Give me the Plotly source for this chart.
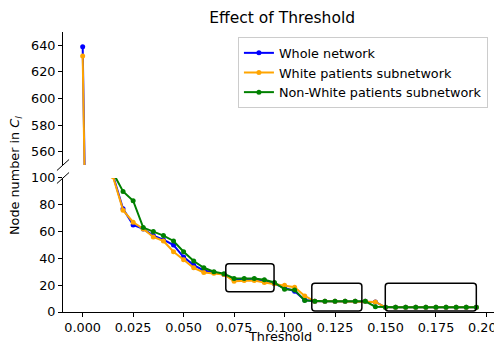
import plotly.graph_objects as go

# ---- data ----
thresholds = [round(i * 0.005, 3) for i in range(40)]
whole = [639, 170, 125, 102, 77, 65, 62, 57, 54, 50, 41, 35, 31, 29.5, 28, 24, 24.5, 24.5, 23, 21,
         18, 15.5, 9, 8, 8, 8, 8, 8, 8, 7.5, 3.5, 3.5, 3.5, 3.5, 3.5, 3.5, 3.5, 3.5, 3.5, 3.5]
white = [632, 165, 122, 101, 76, 67, 62, 56, 53, 45, 39, 33, 29.5, 29, 28, 23, 23.5, 23.5, 22, 21,
         20, 18.5, 12, 8, 8, 8, 8, 8, 8, 7.5, 3.5, 3.5, 3.5, 3.5, 3.5, 3.5, 3.5, 3.5, 3.5, 3.5]
nonwhite = [180, 140, 120, 104, 90, 83, 63, 60, 57, 53, 45, 38, 33, 30, 28.5, 25, 25, 25, 24, 22,
            17, 16.5, 8.5, 8, 8, 8, 8, 8, 8, 4, 3.5, 3.5, 3.5, 3.5, 3.5, 3.5, 3.5, 3.5, 3.5, 3.5]
series_names = ["Whole network", "White patients subnetwork", "Non-White patients subnetwork"]
series_colors = ["#0000ff", "#ffa500", "#008000"]
x_ticks = [0, 0.025, 0.05, 0.075, 0.1, 0.125, 0.15, 0.175, 0.2]
low_ticks = [0, 20, 40, 60, 80, 100]
high_ticks = [560, 580, 600, 620, 640]

FONT = "DejaVu Sans"
FS = 12.8
fig = go.Figure()

for name, vals, col in zip(series_names, [whole, white, nonwhite], series_colors):
    for ax_y, ax_x, show in [("y", "x", True), ("y2", "x2", False)]:
        fig.add_trace(go.Scatter(
            x=thresholds, y=vals, mode="lines+markers", name=name,
            line=dict(color=col, width=2), marker=dict(color=col, size=5),
            xaxis=ax_x, yaxis=ax_y, showlegend=show, legendgroup=name))

XR = [-0.00975, 0.20475]
tickfont = dict(family=FONT, size=FS, color="black")
# page body has an 8px margin, so the figure is 8px smaller and offset
fig.update_layout(
    width=494, height=333,
    margin=dict(l=55, r=6, t=24, b=29),
    paper_bgcolor="white", plot_bgcolor="white",
    font=dict(family=FONT, size=FS, color="black"),
    title=dict(text="Effect of Threshold", x=0.555, xanchor="center", y=1 - 10 / 333,
               yanchor="middle", yref="container",
               font=dict(family=FONT, size=15.5, color="black")),
    xaxis=dict(range=XR, domain=[0, 1], anchor="y", tickvals=x_ticks, tickformat=".3f",
               showline=True, linecolor="black", linewidth=1, ticks="outside", ticklen=4,
               tickcolor="black", showgrid=False, zeroline=False, tickfont=tickfont, mirror=False,
               automargin=False, ticklabeloverflow="allow"),
    xaxis2=dict(range=XR, domain=[0, 1], anchor="y2", matches="x", showticklabels=False,
                showline=False, ticks="", showgrid=False, zeroline=False),
    yaxis=dict(range=[0, 100], domain=[0, 0.4786], anchor="x", tickvals=low_ticks,
               showline=True, linecolor="black", linewidth=1, ticks="outside", ticklen=4,
               tickcolor="black", showgrid=False, zeroline=False, tickfont=tickfont,
               automargin=False),
    yaxis2=dict(range=[550, 650], domain=[0.525, 1], anchor="x2", tickvals=high_ticks,
                showline=True, linecolor="black", linewidth=1, ticks="outside", ticklen=4,
                tickcolor="black", showgrid=False, zeroline=False, tickfont=tickfont,
                automargin=False),
    legend=dict(x=0.404, y=0.982, xanchor="left", yanchor="top", bgcolor="white",
                bordercolor="#cccccc", borderwidth=1, font=dict(family=FONT, size=FS),
                tracegroupgap=0, itemwidth=30),
    showlegend=True,
)

# axis titles
fig.add_annotation(text="Threshold", x=0.501, y=-0.089, xref="paper", yref="paper",
                   xanchor="center", yanchor="middle", showarrow=False,
                   font=dict(family=FONT, size=FS, color="black"))
fig.add_annotation(text="Node number in <i>C<sub>l</sub></i>", x=-0.111, y=0.489,
                   xref="paper", yref="paper", textangle=-90, showarrow=False,
                   xanchor="center", yanchor="middle",
                   font=dict(family=FONT, size=FS, color="black"))

# break marks
dx, dy = 0.014, 0.0196
for yc in [0.525, 0.4786]:
    fig.add_shape(type="line", xref="paper", yref="paper", x0=-dx, y0=yc - dy, x1=dx, y1=yc + dy,
                  line=dict(color="black", width=1))


def rounded_rect(x0, x1, y0, y1, rx=0.0015, ry=2.2):
    return (f"M {x0+rx},{y0} L {x1-rx},{y0} Q {x1},{y0} {x1},{y0+ry} "
            f"L {x1},{y1-ry} Q {x1},{y1} {x1-rx},{y1} L {x0+rx},{y1} Q {x0},{y1} {x0},{y1-ry} "
            f"L {x0},{y0+ry} Q {x0},{y0} {x0+rx},{y0} Z")


for (bx0, bx1, by0, by1) in [(0.0709, 0.0948, 15.2, 36), (0.1135, 0.1383, 0.75, 21.5),
                             (0.1499, 0.195, 0.75, 21.5)]:
    fig.add_shape(type="path", xref="x", yref="y", path=rounded_rect(bx0, bx1, by0, by1),
                  line=dict(color="black", width=1.5), fillcolor="rgba(0,0,0,0)")

fig.write_html("out.html")
